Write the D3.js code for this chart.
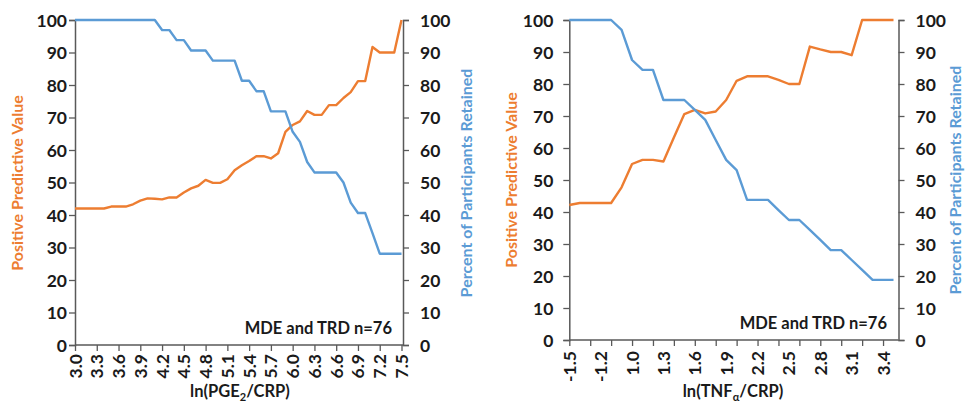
<!DOCTYPE html>
<html>
<head>
<meta charset="utf-8">
<script src="https://cdn.jsdelivr.net/npm/d3@7"></script>
<style>
  html, body { margin: 0; padding: 0; background: #fff; }
  svg { display: block; }
  text { font-family: Lato, "Open Sans", sans-serif; font-weight: 700; }
</style>
</head>
<body>
<svg id="chart" width="966" height="404"></svg>
<script>
// ---------- DATA ----------
const pgeCategories = ["3.0","3.1","3.2","3.3","3.4","3.5","3.6","3.7","3.8","3.9",
  "4.0","4.1","4.2","4.3","4.4","4.5","4.6","4.7","4.8","4.9",
  "5.0","5.1","5.2","5.3","5.4","5.5","5.6","5.7","5.8","5.9",
  "6.0","6.1","6.2","6.3","6.4","6.5","6.6","6.7","6.8","6.9",
  "7.0","7.1","7.2","7.3","7.4","7.5"];
const pgePPV = [42,42,42,42,42,42.6,42.6,42.6,43.3,44.4,
  45.1,45,44.8,45.4,45.4,46.9,48.2,49,50.8,49.9,
  49.9,51,53.8,55.3,56.6,58.1,58.1,57.4,59,65.6,
  67.7,68.8,72,70.8,70.8,73.8,73.8,76,77.8,81.2,
  81.2,91.7,90,90,90,100];
const pgeRetained = [100,100,100,100,100,100,100,100,100,100,
  100,100,96.9,96.9,93.8,93.8,90.6,90.6,90.6,87.5,
  87.5,87.5,87.5,81.3,81.3,78.1,78.1,71.9,71.9,71.9,
  65.6,62.5,56.3,53.1,53.1,53.1,53.1,50,43.8,40.6,
  40.6,34.4,28.1,28.1,28.1,28.1];
const pgeTickLabels = ["3.0","3.3","3.6","3.9","4.2","4.5","4.8","5.1","5.4","5.7","6.0","6.3","6.6","6.9","7.2","7.5"];

const tnfCategories = ["-1.5","-1.4","-1.3","-1.2","-1.1","0.9",
  "1.0","1.1","1.2","1.3","1.4","1.5","1.6","1.7","1.8","1.9",
  "2.0","2.1","2.2","2.3","2.4","2.5","2.6","2.7","2.8","2.9",
  "3.0","3.1","3.2","3.3","3.4","3.5"];
const tnfPPV = [42.2,42.8,42.8,42.8,42.8,47.7,55,56.3,56.3,55.8,
  63.3,70.6,71.9,70.8,71.4,75,81,82.4,82.4,82.4,
  81.3,80,80,91.7,90.8,90,90,89,100,100,100,100];
const tnfRetained = [100,100,100,100,100,96.9,87.5,84.4,84.4,75,
  75,75,71.9,68.8,62.5,56.3,53.1,43.8,43.8,43.8,
  40.6,37.5,37.5,34.4,31.3,28.1,28.1,25,21.9,18.8,18.8,18.8];
const tnfTickMarks = ["-1.5","-1.3","-1.1","1.0","1.2","1.4","1.6","1.8","2.0","2.2","2.4","2.6","2.8","3.0","3.2","3.4"];
const tnfTickLabels = ["-1.5","-1.2","1.0","1.3","1.6","1.9","2.2","2.5","2.8","3.1","3.4"];

const yTicks = [0,10,20,30,40,50,60,70,80,90,100];
const annotation = "MDE and TRD n=76";
const leftTitle = "Positive Predictive Value";
const rightTitle = "Percent of Participants Retained";

// ---------- STYLE ----------
const ORANGE = "#ED7D31", BLUE = "#5B9BD5", AXIS = "#595959", TXT = "#1a1a1a";
const TICK_FS = 17.5;
const svg = d3.select("#chart");

function panel(cfg) {
  const g = svg.append("g");
  const x = d3.scalePoint().domain(cfg.cats).range([cfg.x0, cfg.xLast]);
  const y = d3.scaleLinear().domain([0, 100]).range([cfg.y0, cfg.y1]);

  // x tick marks
  const xt = g.append("g").attr("transform", `translate(0,${cfg.y0})`)
    .call(d3.axisBottom(x).tickValues(cfg.tickMarks).tickSize(6).tickFormat(""));
  xt.select(".domain").remove();
  xt.selectAll("line").attr("stroke", AXIS).attr("stroke-width", 1.3);

  // x tick labels (rotated)
  const xl = g.append("g").attr("transform", `translate(0,${cfg.y0})`)
    .call(d3.axisBottom(x).tickValues(cfg.tickLabels).tickSize(0).tickPadding(0));
  xl.select(".domain").remove();
  xl.selectAll("text")
    .attr("x", 0).attr("y", 0).attr("dy", null)
    .attr("transform", `translate(6,${cfg.xLabOff}) rotate(-90)`)
    .style("text-anchor", "end")
    .attr("fill", TXT).attr("font-size", TICK_FS);

  // x axis line
  g.append("line").attr("x1", cfg.x0).attr("x2", cfg.xEnd)
    .attr("y1", cfg.y0).attr("y2", cfg.y0)
    .attr("stroke", AXIS).attr("stroke-width", 1.5);

  // left y axis
  const yl = g.append("g").attr("transform", `translate(${cfg.x0},0)`)
    .call(d3.axisLeft(y).tickValues(yTicks).tickSize(6).tickPadding(cfg.padL));
  yl.select(".domain").attr("stroke", AXIS).attr("stroke-width", 1.5);
  yl.selectAll("line").attr("stroke", AXIS).attr("stroke-width", 1.3);
  yl.selectAll("text").attr("fill", TXT).attr("font-size", TICK_FS).attr("dy", "0.36em");

  // right y axis
  const yr = g.append("g").attr("transform", `translate(${cfg.xEnd},0)`)
    .call(d3.axisRight(y).tickValues(yTicks).tickSize(6).tickPadding(cfg.padR));
  yr.select(".domain").attr("stroke", AXIS).attr("stroke-width", 1.5);
  yr.selectAll("line").attr("stroke", AXIS).attr("stroke-width", 1.3);
  yr.selectAll("text").attr("fill", TXT).attr("font-size", TICK_FS).attr("dy", "0.36em");

  // lines
  const line = d3.line().x((d, i) => x(cfg.cats[i])).y(d => y(d));
  g.append("path").datum(cfg.ppv).attr("d", line)
    .attr("fill", "none").attr("stroke", ORANGE).attr("stroke-width", 2.4)
    .attr("stroke-linejoin", "round");
  g.append("path").datum(cfg.ret).attr("d", line)
    .attr("fill", "none").attr("stroke", BLUE).attr("stroke-width", 2.4)
    .attr("stroke-linejoin", "round");

  // annotation
  g.append("text").attr("x", cfg.annX).attr("y", cfg.annY)
    .attr("text-anchor", "end").attr("fill", TXT).attr("font-size", 16.5)
    .text(annotation);

  // y titles
  g.append("text").attr("transform", `translate(${cfg.lTitleX},${cfg.titleY}) rotate(-90)`)
    .attr("text-anchor", "middle").attr("fill", ORANGE).attr("font-size", 16)
    .text(leftTitle);
  g.append("text").attr("transform", `translate(${cfg.rTitleX},${cfg.titleY}) rotate(-90)`)
    .attr("text-anchor", "middle").attr("fill", BLUE).attr("font-size", 16)
    .text(rightTitle);

  // x title with subscript
  const t = g.append("text").attr("x", cfg.xTitleX).attr("y", cfg.xTitleY)
    .attr("text-anchor", "middle").attr("fill", TXT).attr("font-size", 16.5);
  t.append("tspan").text(cfg.xTitle[0]);
  t.append("tspan").attr("font-size", 11).attr("dy", 4).text(cfg.xTitle[1]);
  t.append("tspan").attr("dy", -4).text(cfg.xTitle[2]);
}

panel({
  cats: pgeCategories, ppv: pgePPV, ret: pgeRetained,
  tickMarks: pgeTickLabels, tickLabels: pgeTickLabels,
  x0: 75, xLast: 401.5, xEnd: 403, y0: 345, y1: 20,
  padL: 2, padR: 11, xLabOff: 9,
  annX: 392, annY: 334,
  lTitleX: 23, rTitleX: 472, titleY: 183,
  xTitleX: 240, xTitleY: 397, xTitle: ["ln(PGE", "2", "/CRP)"]
});

panel({
  cats: tnfCategories, ppv: tnfPPV, ret: tnfRetained,
  tickMarks: tnfTickMarks, tickLabels: tnfTickLabels,
  x0: 569.3, xLast: 893.5, xEnd: 898.5, y0: 340, y1: 20,
  padL: 10, padR: 11, xLabOff: 11,
  annX: 887, annY: 329,
  lTitleX: 517, rTitleX: 961, titleY: 180,
  xTitleX: 733, xTitleY: 397, xTitle: ["ln(TNF", "α", "/CRP)"]
});
</script>
</body>
</html>
